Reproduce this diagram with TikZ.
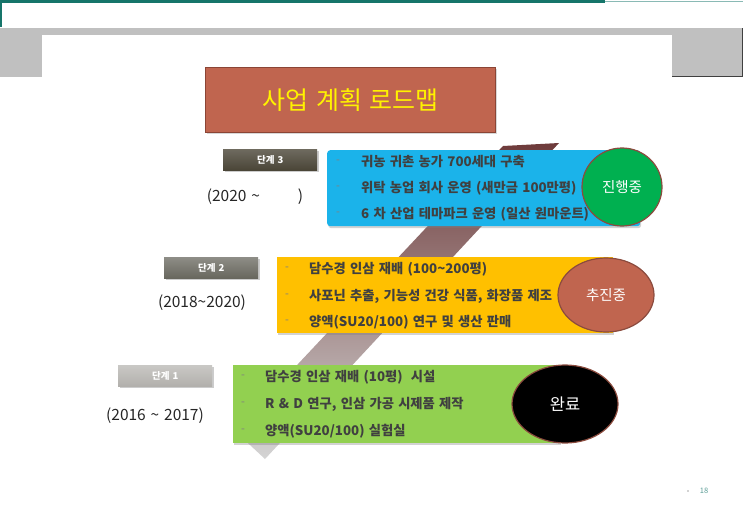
\documentclass[tikz,border=0pt]{standalone}
\usepackage{fontspec}
\setmainfont[WordSpace=1.4]{Noto Sans CJK KR}
\usepackage{xcolor}
\usetikzlibrary{positioning, shadows, shapes.geometric}

\definecolor{frameteal}{HTML}{16756A}
\definecolor{framegray}{HTML}{C0C0C0}
\definecolor{titlefill}{HTML}{C0654F}
\definecolor{titleedge}{HTML}{8B4535}
\definecolor{phaseblue}{HTML}{1BB3EA}
\definecolor{phaseyellow}{HTML}{FFC000}
\definecolor{phasegreen}{HTML}{92D050}
\definecolor{stagedark}{HTML}{4A4537}
\definecolor{stagemid}{HTML}{68675E}
\definecolor{stagelight}{HTML}{B2B0AC}
\definecolor{statusgreen}{HTML}{00B050}
\definecolor{statusedge}{HTML}{8B4B3E}
\definecolor{itemgray}{HTML}{404040}
\definecolor{stripetop}{HTML}{6E3B3B}
\definecolor{stripemid}{HTML}{9C9090}
\definecolor{stripebottom}{HTML}{D4D4D4}

\begin{document}
\begin{tikzpicture}[x=1pt, y=-1pt,
    planbox/.style={rounded corners=3pt, anchor=north west, inner sep=0pt,
        drop shadow={opacity=0.35, shadow xshift=1pt, shadow yshift=-2pt}},
    stagebox/.style={minimum width=94pt, minimum height=21pt, inner sep=0pt,
        anchor=north west, text=white, font=\fontsize{9.5}{10}\selectfont\bfseries,
        drop shadow={opacity=0.4, shadow xshift=1.5pt, shadow yshift=-1.5pt}},
    item/.style={anchor=west, inner sep=0pt, text=itemgray,
        font=\fontsize{13.3}{15}\selectfont\bfseries},
    itemdash/.style={anchor=west, inner sep=0pt, text=gray,
        font=\fontsize{11}{12}\selectfont},
    year/.style={text=black!85, font=\fontsize{15.5}{17}\selectfont},
    status/.style={ellipse, draw=statusedge, line width=1.2pt, inner sep=0pt,
        text=white, font=\fontsize{14.5}{16}\selectfont}
]
    \useasboundingbox (0,0) rectangle (743,514);

    % Slide frame
    \fill[white] (0,0) rectangle (743,514);
    \fill[frameteal] (0,0) rectangle (605,3);
    \draw[frameteal!50] (605,1) -- (743,1);
    \fill[frameteal] (0,0) rectangle (2,27);
    \fill[framegray] (0,28) rectangle (743,77);
    \fill[white] (42,35) rectangle (672,77);
    \draw[black!75, line width=1pt] (672,76.5) -- (742.5,76.5) -- (742.5,28);

    % Diagonal stripe behind the phases
    \shade[top color=stripetop, middle color=stripemid, bottom color=stripebottom]
        (265,459) -- (235,431) -- (503,146) -- (559,143) -- cycle;

    % Title
    \node[fill=titlefill, draw=titleedge, line width=1.2pt, minimum width=290pt,
        minimum height=65pt, anchor=north west, text=yellow,
        font=\fontsize{25}{28}\selectfont,
        drop shadow={opacity=0.3, shadow xshift=1pt, shadow yshift=-1pt}]
        (title) at (205,67) {사업 계획 로드맵};

    % Phase 3
    \node[stagebox, top color=stagedark!80, bottom color=stagedark] (stage3) at (223,149) {단계 3};
    \node[year] (year3) at (255,197) {(2020 \textasciitilde\hspace*{38pt})};
    \node[planbox, fill=phaseblue, minimum width=313pt, minimum height=76pt] (box3) at (327,150) {};
    \node[itemdash] (d3a) at (336,162) {-};
    \node[itemdash] (d3b) at (336,188) {-};
    \node[itemdash] (d3c) at (336,214) {-};
    \node[item] (i3a) at (361,162) {귀농 귀촌 농가 700세대 구축};
    \node[item] (i3b) at (361,188) {위탁 농업 회사 운영 (새만금 100만평)};
    \node[item] (i3c) at (361,214) {6 차 산업 테마파크 운영 (일산 원마운트)};
    \node[status, fill=statusgreen, minimum width=80pt, minimum height=78pt] (state3) at (622,187) {진행중};

    % Phase 2
    \node[stagebox, top color=stagemid!75, bottom color=stagemid] (stage2) at (164,257) {단계 2};
    \node[year] (year2) at (202,303) {(2018\textasciitilde 2020)};
    \node[planbox, fill=phaseyellow, minimum width=336pt, minimum height=76pt, rounded corners=0pt] (box2) at (277,257) {};
    \node[itemdash] (d2a) at (285,269) {-};
    \node[itemdash] (d2b) at (285,296) {-};
    \node[itemdash] (d2c) at (285,322) {-};
    \node[item] (i2a) at (309,269) {담수경 인삼 재배 (100\textasciitilde 200평)};
    \node[item] (i2b) at (309,296) {사포닌 추출, 기능성 건강 식품, 화장품 제조};
    \node[item] (i2c) at (309,322) {양액(SU20/100) 연구 및 생산 판매};
    \node[status, fill=titlefill, minimum width=96pt, minimum height=74pt] (state2) at (606,295) {추진중};

    % Phase 1
    \node[stagebox, top color=stagelight!70, bottom color=stagelight] (stage1) at (118,365) {단계 1};
    \node[year] (year1) at (155,416) {(2016 \textasciitilde{} 2017)};
    \node[planbox, fill=phasegreen, minimum width=327pt, minimum height=78pt, rounded corners=0pt,
        drop shadow={opacity=0}] (box1) at (233,365) {};
    \node[itemdash] (d1a) at (241,377) {-};
    \node[itemdash] (d1b) at (241,404) {-};
    \node[itemdash] (d1c) at (241,431) {-};
    \node[item] (i1a) at (265,377) {담수경 인삼 재배 (10평)\hspace{4pt} 시설};
    \node[item] (i1b) at (265,404) {R \& D 연구, 인삼 가공 시제품 제작};
    \node[item] (i1c) at (265,431) {양액(SU20/100) 실험실};
    \node[status, fill=black, minimum width=106pt, minimum height=78pt,
        font=\fontsize{16.5}{18}\selectfont] (state1) at (565,404) {완료};

    % Page number
    \fill[gray!70] (688,491) circle (0.9);
    \node[text=frameteal!70, font=\fontsize{7.5}{8}\selectfont] (page) at (704,491) {18};

\end{tikzpicture}
\end{document}
